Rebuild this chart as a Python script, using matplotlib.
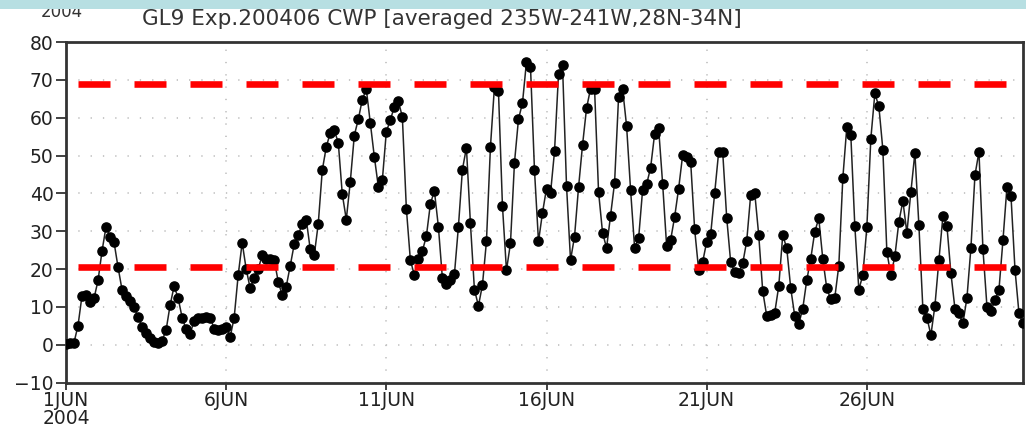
import numpy as np
import matplotlib

matplotlib.use("Agg")
import matplotlib.pyplot as plt
from matplotlib.patches import Rectangle

plt.rcParams.update({
    "font.family": ["DejaVu Sans"],
    "lines.scale_dashes": False,
})

# area-mean cloud water path, 3-hourly from 1 JUN 2004 00Z
cwp = [
    0.2, 0.4, 0.6, 5.1, 13.0, 13.1, 11.4, 12.3, 17.0, 24.8,
    31.2, 28.6, 27.1, 20.5, 14.5, 12.9, 11.7, 9.9, 7.4, 4.8,
    3.2, 1.7, 0.8, 0.6, 1.1, 3.9, 10.5, 15.5, 12.4, 7.2,
    4.1, 2.9, 6.4, 7.0, 7.2, 7.4, 7.2, 4.3, 4.0, 4.1,
    4.8, 2.1, 7.2, 18.4, 27.0, 20.0, 14.9, 17.7, 20.0, 23.7,
    22.8, 22.6, 22.4, 16.7, 13.1, 15.4, 20.9, 26.6, 29.0, 32.0,
    33.1, 25.2, 23.7, 32.0, 46.1, 52.3, 56.0, 56.7, 53.4, 39.8,
    33.1, 43.1, 55.3, 59.6, 64.8, 67.5, 58.7, 49.7, 41.8, 43.5,
    56.3, 59.4, 62.9, 64.4, 60.2, 36.0, 22.4, 18.4, 22.8, 24.8,
    28.7, 37.2, 40.7, 31.2, 17.6, 16.2, 17.1, 18.6, 31.2, 46.3,
    52.1, 32.1, 14.6, 10.3, 15.8, 27.3, 52.3, 68.2, 67.1, 36.7,
    19.7, 26.8, 48.1, 59.6, 63.9, 74.8, 73.5, 46.1, 27.3, 34.9,
    41.3, 40.0, 51.1, 71.5, 73.9, 42.0, 22.4, 28.6, 41.6, 52.8,
    62.5, 67.7, 67.7, 40.4, 29.6, 25.6, 34.1, 42.8, 65.5, 67.7,
    57.8, 40.9, 25.7, 28.1, 40.9, 42.4, 46.8, 55.7, 57.2, 42.6,
    26.1, 27.7, 33.8, 41.3, 50.1, 49.7, 48.4, 30.5, 19.7, 21.9,
    27.2, 29.2, 40.0, 51.0, 51.0, 33.6, 21.8, 19.3, 19.0, 21.5,
    27.4, 39.7, 40.2, 29.0, 14.2, 7.6, 7.9, 8.5, 15.5, 29.0,
    25.5, 14.9, 7.6, 5.5, 9.6, 17.1, 22.8, 29.9, 33.4, 22.7,
    14.9, 12.0, 12.5, 20.9, 44.0, 57.6, 55.4, 31.4, 14.6, 18.4,
    31.0, 54.5, 66.4, 63.0, 51.6, 24.6, 18.4, 23.4, 32.5, 38.0,
    29.6, 40.4, 50.7, 31.6, 9.4, 7.2, 2.6, 10.3, 22.4, 34.0,
    31.4, 18.9, 9.6, 8.3, 5.7, 12.4, 25.7, 44.8, 51.0, 25.2,
    10.1, 9.0, 11.8, 14.6, 27.7, 41.8, 39.3, 19.9, 8.3, 5.7,
]
thresholds = [68.8, 20.6]

day_ticks = [0, 5, 10, 15, 20, 25]
day_labels = ["1JUN\n2004", "6JUN", "11JUN", "16JUN", "21JUN", "26JUN"]
y_ticks = list(range(-10, 81, 10))

days = np.arange(len(cwp)) / 8.0  # 3-hourly steps, in days since 1 JUN

fig = plt.figure(figsize=(10.26, 4.32), dpi=100)
ax = fig.add_axes([66 / 1026, 49.3 / 432, 957 / 1026, 340.7 / 432])

PX = 72 / 100  # one pixel in points

for yv in y_ticks[1:-1]:
    ax.axhline(yv, color="#c4c4c4", lw=1.3, linestyle=(0, (1.3 * PX, 11 * PX)), zorder=0)
for xv in day_ticks[1:]:
    ax.axvline(xv, color="#c4c4c4", lw=1.3, linestyle=(0, (1.3 * PX, 11 * PX)), zorder=0)

ax.plot(days, cwp, color="#222222", lw=1.1, marker="o", ms=6.6,
        mfc="black", mec="black", zorder=3)

# red dashed reference levels: 32 px dashes, 24 px gaps, first dash 12 px in
for lvl in thresholds:
    ax.axhline(lvl, color="#ff0000", lw=6.6 * PX, dash_capstyle="butt",
               linestyle=(44 * PX, (32 * PX, 24 * PX)), zorder=4)

ax.set_xlim(0, days[-1])
ax.set_ylim(-10, 80)
ax.set_xticks(day_ticks)
ax.set_xticklabels(day_labels, linespacing=0.95)
ax.set_yticks(y_ticks)
ax.set_yticklabels([str(v).replace("-", "\u2212") for v in y_ticks])
ax.tick_params(axis="both", direction="out", length=7, width=1.3, color="#333333",
               labelsize=13.5, labelcolor="#222222", pad=2)
ax.tick_params(axis="x", length=5, pad=1)
for s in ax.spines.values():
    s.set_linewidth(2.0)
    s.set_color("#333333")

fig.text(442 / 1026, 1 - 19 / 432, "GL9 Exp.200406 CWP [averaged 235W-241W,28N-34N]",
         ha="center", va="center", fontsize=15.5, color="#333333")
fig.text(62 / 1026, 1 - 12 / 432, "2004", ha="center", va="center",
         fontsize=12, color="#333333")

# pale band across the very top
fig.patches.append(Rectangle((0, 1 - 9 / 432), 1, 9 / 432, transform=fig.transFigure,
                             facecolor="#b7dfe2", edgecolor="none", zorder=5))

fig.savefig("out.png", dpi=100, facecolor="white")
